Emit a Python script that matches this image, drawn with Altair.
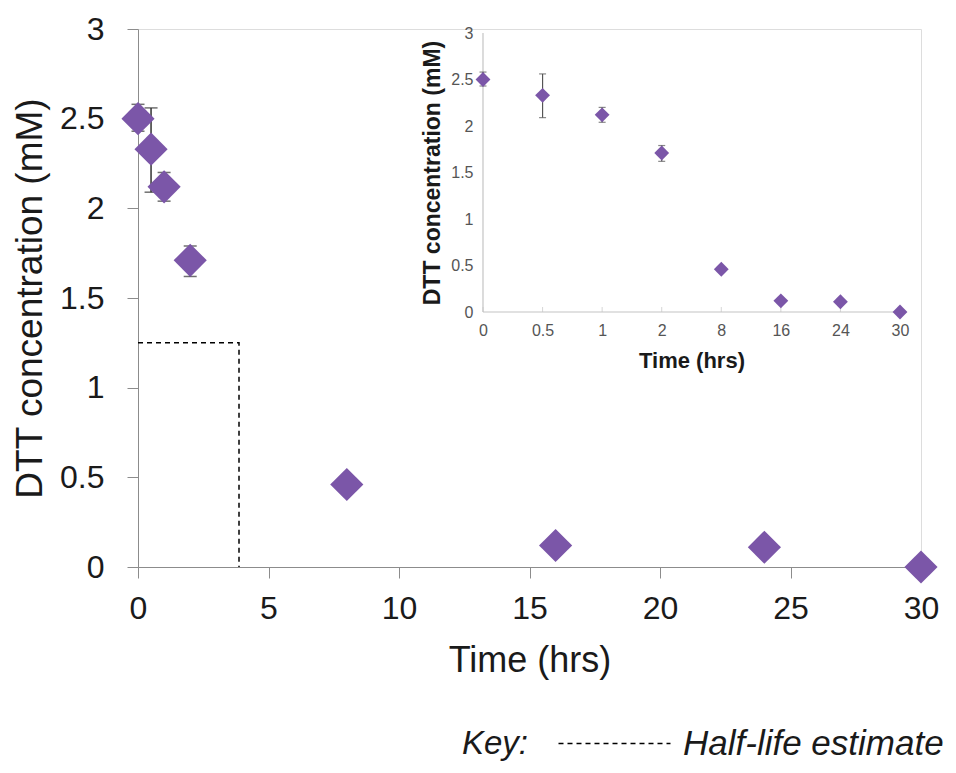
import altair as alt
import pandas as pd

# ---- data ----
time_hrs = [0, 0.5, 1, 2, 8, 16, 24, 30]
conc_mM = [2.50, 2.33, 2.12, 1.71, 0.46, 0.12, 0.11, 0.00]
time_labels = ["0", "0.5", "1", "2", "8", "16", "24", "30"]

err_time = [0, 0.5, 1, 2]
err_low = [2.43, 2.09, 2.04, 1.62]
err_high = [2.58, 2.56, 2.20, 1.79]

halflife_x = [0, 3.87, 3.87]
halflife_y = [1.25, 1.25, 0.0]
halflife_order = [0, 1, 2]
halflife_key = "Half-life estimate"

y_ticks = [0, 0.5, 1, 1.5, 2, 2.5, 3]
x_ticks = [0, 5, 10, 15, 20, 25, 30]

PURPLE = "#7B56A8"
FONT = "Liberation Sans"
INSET_LINE = "#c4c4c4"

idx = list(range(len(time_labels)))
err_idx = [time_hrs.index(t) for t in err_time]

main_df = pd.DataFrame({"t": time_hrs, "c": conc_mM})
err_df = pd.DataFrame({"t": err_time, "lo": err_low, "hi": err_high})
cap_df = pd.DataFrame({"t": err_time + err_time, "v": err_low + err_high})
hl_df = pd.DataFrame({"hx": halflife_x, "hy": halflife_y, "ord": halflife_order,
                      "key": [halflife_key] * 3})
inset_df = pd.DataFrame({"ti": idx, "ci": conc_mM})
inset_err_df = pd.DataFrame({"ti": err_idx, "lo": err_low, "hi": err_high})
inset_cap_df = pd.DataFrame({"ti": err_idx + err_idx, "v": err_low + err_high})
inset_frame_df = pd.DataFrame({"x0": [idx[0]], "x1": [idx[-1]],
                               "y0": [y_ticks[0]], "y1": [y_ticks[-1]]})
inset_tick_df = pd.DataFrame({"ti": idx, "v": [y_ticks[0]] * len(idx)})

# ---- main chart ----
x_scale = alt.Scale(domain=[0, 30], nice=False, zero=False)
y_scale = alt.Scale(domain=[0, 3], nice=False)
x_axis = alt.Axis(title="Time (hrs)", values=x_ticks, grid=False, labelFlush=False,
                  domainColor="#8c8c8c", tickColor="#8c8c8c", tickSize=11, labelPadding=15,
                  labelFontSize=32, labelColor="#1a1a1a", titleFontSize=36,
                  titleFontWeight="normal", titleColor="#1a1a1a", titlePadding=19,
                  labelFont=FONT, titleFont=FONT)
y_axis = alt.Axis(title="DTT concentration (mM)", values=y_ticks, format="~g", grid=False,
                  labelFlush=False, domainColor="#8c8c8c", tickColor="#8c8c8c", tickSize=11,
                  labelPadding=23, labelFontSize=32, labelColor="#1a1a1a", titleFontSize=37,
                  titleFontWeight="normal", titleColor="#1a1a1a", titlePadding=10,
                  labelFont=FONT, titleFont=FONT)

hl = alt.Chart(hl_df).mark_line(color="black", strokeWidth=1.5).encode(
    x=alt.X("hx:Q", scale=x_scale, axis=x_axis),
    y=alt.Y("hy:Q", scale=y_scale, axis=y_axis),
    order="ord:Q",
    strokeDash=alt.StrokeDash(
        "key:N", scale=alt.Scale(range=[[5, 4]]),
        legend=alt.Legend(title="Key:", orient="none", legendX=324, legendY=697,
                          titleOrient="left", direction="horizontal",
                          symbolType="M-8,0L8,0", symbolSize=196, symbolStrokeWidth=1.5,
                          symbolStrokeColor="black", labelFont=FONT, labelFontSize=35,
                          labelFontStyle="italic", labelColor="#1a1a1a", labelLimit=500,
                          titleFont=FONT, titleFontSize=33, titleFontStyle="italic",
                          titleFontWeight="normal", titleColor="#1a1a1a",
                          titlePadding=68, labelOffset=51)),
)
err = alt.Chart(err_df).mark_rule(color="#333333", strokeWidth=1.5).encode(
    x=alt.X("t:Q", scale=x_scale, axis=x_axis),
    y=alt.Y("lo:Q", scale=y_scale, axis=y_axis),
    y2="hi:Q",
)
caps = alt.Chart(cap_df).mark_tick(orient="horizontal", size=13, thickness=1.5,
                                   color="#333333").encode(
    x=alt.X("t:Q", scale=x_scale, axis=x_axis),
    y=alt.Y("v:Q", scale=y_scale, axis=y_axis),
)
pts = alt.Chart(main_df).mark_point(shape="diamond", filled=True, size=1100, color=PURPLE,
                                    opacity=1).encode(
    x=alt.X("t:Q", scale=x_scale, axis=x_axis),
    y=alt.Y("c:Q", scale=y_scale, axis=y_axis),
)
main = alt.layer(hl, err, caps, pts)

# ---- inset chart ----
label_expr = "[" + ",".join("'" + s + "'" for s in time_labels) + "][datum.value]"
xi_scale = alt.Scale(domain=[0, len(time_labels) - 1], range=[345, 762], nice=False,
                     zero=False)
yi_scale = alt.Scale(domain=[0, 3], range=[283, 4], nice=False)
xi_axis = alt.Axis(title="Time (hrs)", orient="bottom", offset=-255, grid=False,
                   values=idx, labelExpr=label_expr, labelFlush=False, domain=False,
                   ticks=False, labelPadding=10, labelFontSize=16, labelColor="#555555",
                   labelAngle=0, titleFontSize=22, titleFontWeight="bold",
                   titleColor="#1a1a1a", titlePadding=12, labelFont=FONT, titleFont=FONT)
yi_axis = alt.Axis(title="DTT concentration (mM)", orient="left", offset=-345,
                   values=y_ticks, format="~g", grid=False, labelFlush=False,
                   domain=False, ticks=False, labelPadding=10, labelFontSize=16,
                   labelColor="#555555", titleFontSize=23, titleFontWeight="bold",
                   titleColor="#1a1a1a", titlePadding=6, labelFont=FONT, titleFont=FONT)

iframe_x = alt.Chart(inset_frame_df).mark_rule(color=INSET_LINE, strokeWidth=1.2).encode(
    x=alt.X("x0:Q", scale=xi_scale, axis=xi_axis),
    x2="x1:Q",
    y=alt.Y("y0:Q", scale=yi_scale, axis=yi_axis),
)
iframe_y = alt.Chart(inset_frame_df).mark_rule(color=INSET_LINE, strokeWidth=1.2).encode(
    x=alt.X("x0:Q", scale=xi_scale, axis=xi_axis),
    y=alt.Y("y0:Q", scale=yi_scale, axis=yi_axis),
    y2="y1:Q",
)
iticks = alt.Chart(inset_tick_df).mark_tick(orient="vertical", size=5, thickness=1,
                                            color=INSET_LINE, yOffset=-2.5).encode(
    x=alt.X("ti:Q", scale=xi_scale, axis=xi_axis),
    y=alt.Y("v:Q", scale=yi_scale, axis=yi_axis),
)
ierr = alt.Chart(inset_err_df).mark_rule(color="#555555", strokeWidth=1.2).encode(
    x=alt.X("ti:Q", scale=xi_scale, axis=xi_axis),
    y=alt.Y("lo:Q", scale=yi_scale, axis=yi_axis),
    y2="hi:Q",
)
icaps = alt.Chart(inset_cap_df).mark_tick(orient="horizontal", size=7, thickness=1.2,
                                          color="#555555").encode(
    x=alt.X("ti:Q", scale=xi_scale, axis=xi_axis),
    y=alt.Y("v:Q", scale=yi_scale, axis=yi_axis),
)
ipts = alt.Chart(inset_df).mark_point(shape="diamond", filled=True, size=220, color=PURPLE,
                                      opacity=1).encode(
    x=alt.X("ti:Q", scale=xi_scale, axis=xi_axis),
    y=alt.Y("ci:Q", scale=yi_scale, axis=yi_axis),
)
inset = alt.layer(iframe_x, iframe_y, iticks, ierr, icaps, ipts)

chart = alt.layer(main, inset).resolve_scale(
    x="independent", y="independent"
).properties(
    width=783, height=538,
    autosize=alt.AutoSizeParams(type="none"),
    padding={"left": 130, "top": 21, "right": 27, "bottom": 196},
).configure_view(stroke="transparent", strokeWidth=0).configure(font=FONT)

chart.save("out.html", embed_options={"renderer": "svg", "actions": False})
